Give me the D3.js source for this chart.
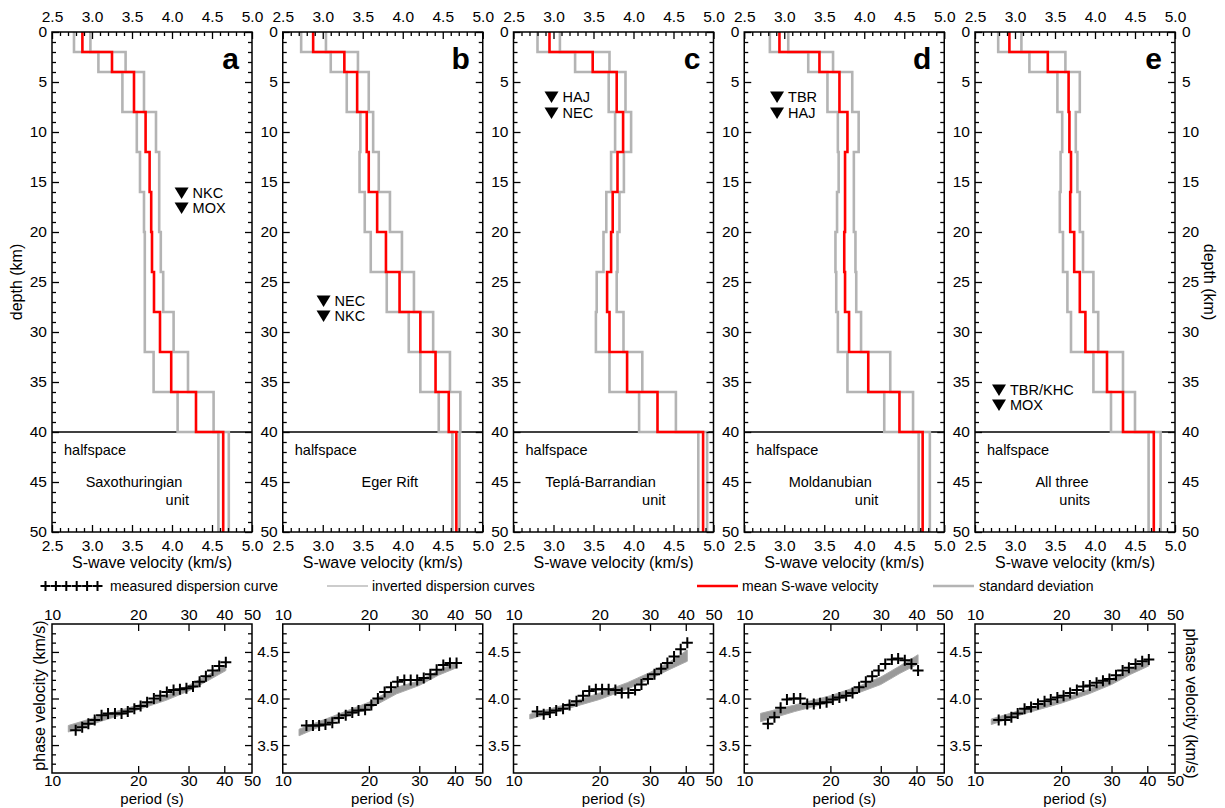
<!DOCTYPE html>
<html>
<head>
<meta charset="utf-8">
<script src="https://cdn.jsdelivr.net/npm/d3@7"></script>
<style>
  body { margin: 0; background: #fff; }
  svg { display: block; }
</style>
</head>
<body>
<div id="chart"></div>
<script>
// ---- DATA ----
// layer boundaries of the S-wave model (km), last layer = halfspace
const layerDepths = [0, 2, 4, 8, 12, 16, 20, 24, 28, 32, 36, 40, 50]

// mean S-wave velocity and +/- standard deviation per layer (km/s)
const meanA = [2.88, 3.25, 3.525, 3.67, 3.72, 3.74, 3.75, 3.775, 3.85, 3.99, 4.30, 4.64]
const lowA  = [2.775, 3.08, 3.38, 3.56, 3.60, 3.65, 3.66, 3.66, 3.66, 3.77, 4.07, 4.58]
const highA = [2.98, 3.42, 3.65, 3.80, 3.84, 3.84, 3.86, 3.89, 4.02, 4.20, 4.52, 4.71]

const meanB = [2.88, 3.27, 3.43, 3.55, 3.575, 3.68, 3.79, 3.96, 4.22, 4.41, 4.575, 4.67]
const lowB  = [2.73, 3.10, 3.30, 3.47, 3.46, 3.525, 3.60, 3.80, 4.075, 4.22, 4.45, 4.62]
const highB = [3.04, 3.44, 3.575, 3.63, 3.70, 3.84, 3.99, 4.14, 4.38, 4.59, 4.72, 4.71]

const meanC = [2.95, 3.49, 3.79, 3.87, 3.80, 3.74, 3.72, 3.67, 3.70, 3.92, 4.30, 4.87]
const lowC  = [2.80, 3.27, 3.69, 3.77, 3.72, 3.66, 3.625, 3.54, 3.53, 3.70, 4.07, 4.81]
const highC = [3.08, 3.70, 3.90, 3.97, 3.88, 3.825, 3.80, 3.79, 3.875, 4.11, 4.53, 4.92]

const meanD = [2.94, 3.44, 3.69, 3.79, 3.76, 3.76, 3.75, 3.76, 3.81, 4.05, 4.44, 4.73]
const lowD  = [2.82, 3.30, 3.54, 3.67, 3.68, 3.66, 3.64, 3.65, 3.67, 3.79, 4.25, 4.68]
const highD = [3.05, 3.61, 3.85, 3.93, 3.87, 3.87, 3.89, 3.90, 3.96, 4.325, 4.61, 4.82]

const meanE = [2.93, 3.41, 3.67, 3.68, 3.70, 3.69, 3.74, 3.81, 3.88, 4.15, 4.35, 4.735]
const lowE  = [2.79, 3.18, 3.53, 3.59, 3.57, 3.56, 3.60, 3.655, 3.70, 3.98, 4.20, 4.67]
const highE = [3.08, 3.63, 3.81, 3.76, 3.78, 3.81, 3.85, 3.98, 4.04, 4.35, 4.50, 4.82]

// measured dispersion curves: period (s) and phase velocity (km/s)
const periods = [12.1, 12.75, 13.4, 14.1, 14.9, 15.7, 16.6, 17.5, 18.4, 19.4, 20.4, 21.5,
                 22.7, 23.9, 25.2, 26.6, 28.0, 29.5, 31.1, 32.8, 34.5, 36.4, 38.4, 40.5]
const measA = [3.66, 3.69, 3.73, 3.77, 3.82, 3.84, 3.84, 3.84, 3.86, 3.89, 3.92, 3.96,
               4.00, 4.03, 4.07, 4.09, 4.10, 4.11, 4.13, 4.18, 4.24, 4.30, 4.35, 4.39]
const measB = [3.71, 3.71, 3.71, 3.72, 3.74, 3.79, 3.82, 3.85, 3.87, 3.88, 3.93, 4.00,
               4.07, 4.12, 4.18, 4.20, 4.20, 4.20, 4.22, 4.26, 4.31, 4.36, 4.38, 4.38]
const measC = [3.86, 3.83, 3.85, 3.87, 3.89, 3.93, 3.97, 4.03, 4.08, 4.10, 4.10, 4.10,
               4.09, 4.06, 4.06, 4.09, 4.15, 4.21, 4.26, 4.32, 4.38, 4.45, 4.53, 4.60]
const measD = [3.73, 3.80, 3.90, 3.99, 4.00, 4.00, 3.94, 3.94, 3.95, 3.96, 3.99, 4.01,
               4.03, 4.06, 4.12, 4.18, 4.24, 4.30, 4.37, 4.42, 4.43, 4.41, 4.37, 4.30]
const measE = [3.77, 3.77, 3.80, 3.84, 3.89, 3.91, 3.94, 3.97, 3.99, 4.01, 4.03, 4.06,
               4.09, 4.13, 4.14, 4.17, 4.19, 4.21, 4.25, 4.30, 4.33, 4.37, 4.40, 4.42]

// envelope of the inverted dispersion curves
const bandPeriods = [11.4, 15, 20, 25, 30, 35, 40.5]
const bandLowA  = [3.64, 3.76, 3.88, 3.98, 4.08, 4.19, 4.30]
const bandHighA = [3.71, 3.82, 3.93, 4.03, 4.14, 4.25, 4.36]
const bandLowB  = [3.60, 3.76, 3.89, 4.05, 4.14, 4.25, 4.33]
const bandHighB = [3.67, 3.81, 3.96, 4.12, 4.19, 4.30, 4.39]
const bandLowC  = [3.78, 3.88, 3.99, 4.10, 4.21, 4.31, 4.40]
const bandHighC = [3.83, 3.93, 4.06, 4.17, 4.28, 4.39, 4.52]
const bandLowD  = [3.75, 3.86, 3.96, 4.06, 4.15, 4.27, 4.37]
const bandHighD = [3.84, 3.93, 4.03, 4.13, 4.23, 4.35, 4.47]
const bandLowE  = [3.72, 3.84, 3.95, 4.05, 4.15, 4.26, 4.35]
const bandHighE = [3.78, 3.89, 3.99, 4.10, 4.21, 4.32, 4.41]

// stations: names with marker position (velocity km/s, depth km)
const stationsA = [["NKC", 4.12, 16.1], ["MOX", 4.12, 17.6]]
const stationsB = [["NEC", 3.01, 26.9], ["NKC", 3.01, 28.4]]
const stationsC = [["HAJ", 2.975, 6.5], ["NEC", 2.975, 8.1]]
const stationsD = [["TBR", 2.91, 6.5], ["HAJ", 2.91, 8.1]]
const stationsE = [["TBR/KHC", 2.80, 35.8], ["MOX", 2.80, 37.3]]

const panelLetters = ["a", "b", "c", "d", "e"]
const unitNames = [["Saxothuringian", "unit"], ["Eger Rift"], ["Teplá-Barrandian", "unit"],
                   ["Moldanubian", "unit"], ["All three", "units"]]

const velTicks = [2.5, 3.0, 3.5, 4.0, 4.5, 5.0]
const depthTicks = [0, 5, 10, 15, 20, 25, 30, 35, 40, 45, 50]
const periodTicks = [10, 20, 30, 40, 50]
const phaseTicks = [3.5, 4.0, 4.5]

const legendItems = ["measured dispersion curve", "inverted dispersion curves",
                     "mean S-wave velocity", "standard deviation"]

// ---- LAYOUT ----
const FONT = "'Liberation Sans', Arial, Helvetica, sans-serif"
const dims = { width: 1225, height: 808, left: 52, step: 230.75, w: 200,
               top: 32, topH: 500, bot: 624, botH: 149 }
// unit label placement: [centre x of line 1, right end of line 2] from panel left
const unitPos = [[82, 137], [107, 0], [87, 152], [86, 134], [87, 115]]

const topPanels = [
  { mean: meanA, low: lowA, high: highA, st: stationsA },
  { mean: meanB, low: lowB, high: highB, st: stationsB },
  { mean: meanC, low: lowC, high: highC, st: stationsC },
  { mean: meanD, low: lowD, high: highD, st: stationsD },
  { mean: meanE, low: lowE, high: highE, st: stationsE },
]
const botPanels = [
  { meas: measA, lo: bandLowA, hi: bandHighA },
  { meas: measB, lo: bandLowB, hi: bandHighB },
  { meas: measC, lo: bandLowC, hi: bandHighC },
  { meas: measD, lo: bandLowD, hi: bandHighD },
  { meas: measE, lo: bandLowE, hi: bandHighE },
]

const svg = d3.select("#chart").append("svg")
  .attr("width", dims.width).attr("height", dims.height)
  .style("font-family", FONT)

const depthScale = d3.scaleLinear().domain([0, 50]).range([dims.top, dims.top + dims.topH])
const phaseScale = d3.scaleLinear().domain([3.2, 4.8]).range([dims.bot + dims.botH, dims.bot])

const RED = "#ff0000", STD = "#b4b4b4", INV = "#9a9a9a"

function styleAxis(g, fs) {
  g.attr("font-family", null).attr("font-size", null)
  g.select(".domain").remove()
  g.selectAll("line").attr("stroke", "#000").attr("stroke-width", 1.3)
  g.selectAll("text").attr("fill", "#000").style("font-size", fs + "px")
}

// generic tick maker: major (labelled or not) + minor ticks
function axisPair(parent, gen, scale, major, minor, transform, labels, pad, fs, fmt) {
  parent.append("g").attr("transform", transform)
    .call(gen(scale).tickValues(minor).tickSize(-4).tickFormat(""))
    .call(g => styleAxis(g, fs))
  parent.append("g").attr("transform", transform)
    .call(gen(scale).tickValues(major).tickSize(-7).tickPadding(pad)
      .tickFormat(labels ? fmt : ""))
    .call(g => styleAxis(g, fs))
}

const stepPoints = vals => vals.flatMap((v, i) => [[v, layerDepths[i]], [v, layerDepths[i + 1]]])

// ---- TOP PANELS: S-wave velocity profiles ----
topPanels.forEach((p, i) => {
  const x0 = dims.left + i * dims.step
  const x = d3.scaleLinear().domain([2.5, 5]).range([x0, x0 + dims.w])
  const g = svg.append("g")

  g.append("line")
    .attr("x1", x0).attr("x2", x0 + dims.w)
    .attr("y1", depthScale(40)).attr("y2", depthScale(40))
    .attr("stroke", "#000").attr("stroke-width", 1.3)

  const line = d3.line().x(d => x(d[0])).y(d => depthScale(d[1]))
  ;[p.low, p.high].forEach(vals => {
    g.append("path").attr("d", line(stepPoints(vals)))
      .attr("fill", "none").attr("stroke", STD).attr("stroke-width", 2.6)
  })
  g.append("path").attr("d", line(stepPoints(p.mean)))
    .attr("fill", "none").attr("stroke", RED).attr("stroke-width", 2.6)

  g.append("rect")
    .attr("x", x0).attr("y", dims.top).attr("width", dims.w).attr("height", dims.topH)
    .attr("fill", "none").attr("stroke", "#000").attr("stroke-width", 1.5)

  const minorV = d3.range(2.6, 5.0, 0.1).filter(v => Math.abs(v * 2 - Math.round(v * 2)) > 0.01)
  const minorD = d3.range(1, 50, 1).filter(v => v % 5 !== 0)
  const f1 = d3.format(".1f"), fd = d3.format("d")
  axisPair(g, d3.axisTop, x, velTicks, minorV, `translate(0,${dims.top})`, true, 10, 15.5, f1)
  axisPair(g, d3.axisBottom, x, velTicks, minorV, `translate(0,${dims.top + dims.topH})`, true, 8, 15.5, f1)
  axisPair(g, d3.axisLeft, depthScale, depthTicks, minorD, `translate(${x0},0)`, true, 5, 15.5, fd)
  axisPair(g, d3.axisRight, depthScale, depthTicks, minorD, `translate(${x0 + dims.w},0)`, i === 4, 7, 15.5, fd)

  g.append("text")
    .attr("x", x0 + dims.w / 2).attr("y", 568)
    .attr("text-anchor", "middle").style("font-size", "16px")
    .text("S-wave velocity (km/s)")

  g.append("text")
    .attr("x", x0 + 187).attr("y", 69)
    .attr("text-anchor", "end").style("font-size", "30px").style("font-weight", "bold")
    .text(panelLetters[i])

  // halfspace + unit name
  g.append("text").attr("x", x0 + 12).attr("y", 455).style("font-size", "14.5px").text("halfspace")
  const u = unitNames[i]
  g.append("text").attr("x", x0 + unitPos[i][0]).attr("y", 487)
    .attr("text-anchor", "middle").style("font-size", "14.5px").text(u[0])
  if (u[1]) {
    g.append("text").attr("x", x0 + unitPos[i][1]).attr("y", 505)
      .attr("text-anchor", "end").style("font-size", "14.5px").text(u[1])
  }

  // station markers
  p.st.forEach(([name, v, d]) => {
    const cx = x(v), cy = depthScale(d)
    g.append("path")
      .attr("d", `M${cx - 7},${cy - 5.5}L${cx + 7},${cy - 5.5}L${cx},${cy + 6}Z`)
      .attr("fill", "#000")
    g.append("text").attr("x", cx + 11).attr("y", cy + 5)
      .style("font-size", "14.5px").text(name)
  })
})

svg.append("text")
  .attr("transform", `translate(22,${dims.top + dims.topH / 2}) rotate(-90)`)
  .attr("text-anchor", "middle").style("font-size", "16px").text("depth (km)")
svg.append("text")
  .attr("transform", `translate(1204,${dims.top + dims.topH / 2}) rotate(90)`)
  .attr("text-anchor", "middle").style("font-size", "16px").text("depth (km)")

// ---- LEGEND ----
const legY = 586
const leg = svg.append("g")
d3.range(6).forEach(k => {
  const cx = 45.5 + k * 10.4
  leg.append("path").attr("d", `M${cx - 5},${legY}h10M${cx},${legY - 5}v10`)
    .attr("stroke", "#000").attr("stroke-width", 2)
})
leg.append("text").attr("x", 110).attr("y", legY + 5).style("font-size", "14px").text(legendItems[0])
leg.append("line").attr("x1", 327).attr("x2", 368).attr("y1", legY).attr("y2", legY)
  .attr("stroke", INV).attr("stroke-width", 1.2)
leg.append("text").attr("x", 372).attr("y", legY + 5).style("font-size", "14px").text(legendItems[1])
leg.append("line").attr("x1", 697).attr("x2", 738).attr("y1", legY).attr("y2", legY)
  .attr("stroke", RED).attr("stroke-width", 2.6)
leg.append("text").attr("x", 742).attr("y", legY + 5).style("font-size", "14px").text(legendItems[2])
leg.append("line").attr("x1", 933).attr("x2", 974).attr("y1", legY).attr("y2", legY)
  .attr("stroke", STD).attr("stroke-width", 2.6)
leg.append("text").attr("x", 979).attr("y", legY + 5).style("font-size", "14px").text(legendItems[3])

// ---- BOTTOM PANELS: dispersion curves ----
botPanels.forEach((p, i) => {
  const x0 = dims.left + i * dims.step
  const x = d3.scaleLog().domain([10, 50]).range([x0, x0 + dims.w])
  const g = svg.append("g")

  const area = d3.area()
    .x(d => x(d[0])).y0(d => phaseScale(d[1])).y1(d => phaseScale(d[2]))
  const band = bandPeriods.map((t, k) => [t, p.lo[k], p.hi[k]])
  g.append("path").attr("d", area(band))
    .attr("fill", INV).attr("stroke", "#aaa").attr("stroke-width", 1)

  g.selectAll(".meas").data(periods.map((t, k) => [t, p.meas[k]]))
    .join("path").attr("class", "meas")
    .attr("d", d => {
      const cx = x(d[0]), cy = phaseScale(d[1])
      return `M${cx - 5.5},${cy}h11M${cx},${cy - 5.5}v11`
    })
    .attr("stroke", "#000").attr("stroke-width", 2).attr("fill", "none")

  g.append("rect")
    .attr("x", x0).attr("y", dims.bot).attr("width", dims.w).attr("height", dims.botH)
    .attr("fill", "none").attr("stroke", "#000").attr("stroke-width", 1.5)

  const minorP = d3.range(3.3, 4.75, 0.1).filter(v => Math.abs(v * 2 - Math.round(v * 2)) > 0.01)
  const fp = d3.format("d"), fv = d3.format(".1f")
  const innerPeriods = periodTicks.slice(1, -1)
  const periodAxis = (gen, tr, pad) => {
    g.append("g").attr("transform", tr)
      .call(gen(x).tickValues(periodTicks).tickSize(0).tickPadding(pad).tickFormat(fp))
      .call(a => styleAxis(a, 15.5))
    g.append("g").attr("transform", tr)
      .call(gen(x).tickValues(innerPeriods).tickSize(-7).tickFormat(""))
      .call(a => styleAxis(a, 15.5))
  }
  periodAxis(d3.axisTop, `translate(0,${dims.bot})`, 4)
  periodAxis(d3.axisBottom, `translate(0,${dims.bot + dims.botH})`, 2)
  axisPair(g, d3.axisLeft, phaseScale, phaseTicks, minorP, `translate(${x0},0)`, i > 0, 4, 15.5, fv)
  axisPair(g, d3.axisRight, phaseScale, phaseTicks, minorP, `translate(${x0 + dims.w},0)`, false, 4, 15.5, fv)

  g.append("text")
    .attr("x", x0 + dims.w / 2).attr("y", 804)
    .attr("text-anchor", "middle").style("font-size", "15px")
    .text("period (s)")
})

svg.append("text")
  .attr("transform", `translate(45,${dims.bot + dims.botH / 2 - 3}) rotate(-90)`)
  .attr("text-anchor", "middle").style("font-size", "16px").text("phase velocity (km/s)")
svg.append("text")
  .attr("transform", `translate(1186,${dims.bot + dims.botH / 2 + 5}) rotate(90)`)
  .attr("text-anchor", "middle").style("font-size", "16px").text("phase velocity (km/s)")
</script>
</body>
</html>
